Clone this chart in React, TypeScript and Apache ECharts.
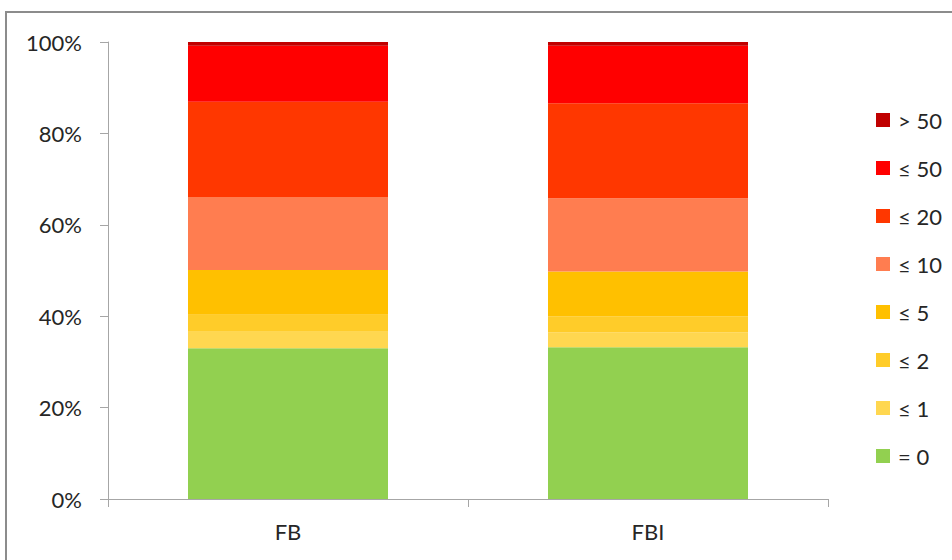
import React, { useEffect, useRef } from "react";
import * as echarts from "echarts";

const categories = ["FB", "FBI"];
const seriesNames = ["= 0", "≤ 1", "≤ 2", "≤ 5", "≤ 10", "≤ 20", "≤ 50", "> 50"];
const seriesColors = ["#92D050", "#FFD750", "#FFCC29", "#FFC000", "#FF7D50", "#FF3700", "#FF0000", "#C00000"];
const valEq0 = [33.0, 33.2];
const valLe1 = [3.6, 3.3];
const valLe2 = [3.7, 3.5];
const valLe5 = [9.8, 9.8];
const valLe10 = [16.0, 16.0];
const valLe20 = [20.8, 20.8];
const valLe50 = [12.3, 12.6];
const valGt50 = [0.8, 0.8];
const seriesValues = [valEq0, valLe1, valLe2, valLe5, valLe10, valLe20, valLe50, valGt50];
const yTicks = [0, 20, 40, 60, 80, 100];

const FONT = "Lato, 'Open Sans', 'DejaVu Sans', sans-serif";
const TEXT = "#262626";
const FS = 22;

export default function App() {
  const ref = useRef<HTMLDivElement>(null);
  useEffect(() => {
    if (!ref.current) return;
    const chart = echarts.init(ref.current, undefined, { renderer: "svg" });
    chart.setOption({
      animation: false,
      backgroundColor: "#FFFFFF",
      grid: { left: 108, top: 42, right: 124, bottom: 61, containLabel: false },
      legend: {
        orient: "vertical",
        left: 871,
        top: 104,
        itemWidth: 14,
        itemHeight: 14,
        itemGap: 26,
        icon: "rect",
        data: [...seriesNames].reverse(),
        textStyle: { fontFamily: FONT, fontSize: FS, color: TEXT, lineHeight: 22, padding: [0, 0, 0, 3] },
      },
      xAxis: {
        type: "category",
        data: categories,
        axisLine: { lineStyle: { color: "#A6A6A6", width: 1 } },
        axisTick: { show: true, length: 8, lineStyle: { color: "#A6A6A6" } },
        axisLabel: { fontFamily: FONT, fontSize: FS, color: TEXT, margin: 21 },
      },
      yAxis: {
        type: "value",
        min: yTicks[0],
        max: yTicks[yTicks.length - 1],
        interval: 20,
        axisLine: { show: true, lineStyle: { color: "#A6A6A6", width: 1 } },
        axisTick: { show: true, length: 8, lineStyle: { color: "#A6A6A6" } },
        splitLine: { show: false },
        axisLabel: { fontFamily: FONT, fontSize: FS, color: TEXT, margin: 26, formatter: "{value}%" },
      },
      series: seriesNames.map((name, i) => ({
        name,
        type: "bar",
        stack: "total",
        barWidth: 200,
        data: seriesValues[i],
        itemStyle: { color: seriesColors[i] },
      })),
      graphic: [
        {
          type: "polyline",
          shape: { points: [[6, 600], [6, 12], [960, 12]] },
          style: { stroke: "#8C8C8C", lineWidth: 2, fill: "none" },
          silent: true,
        },
      ],
    });
    return () => chart.dispose();
  }, []);
  return (
    <div
      ref={ref}
      style={{ position: "absolute", left: 0, top: 0, width: 952, height: 560 }}
    />
  );
}
